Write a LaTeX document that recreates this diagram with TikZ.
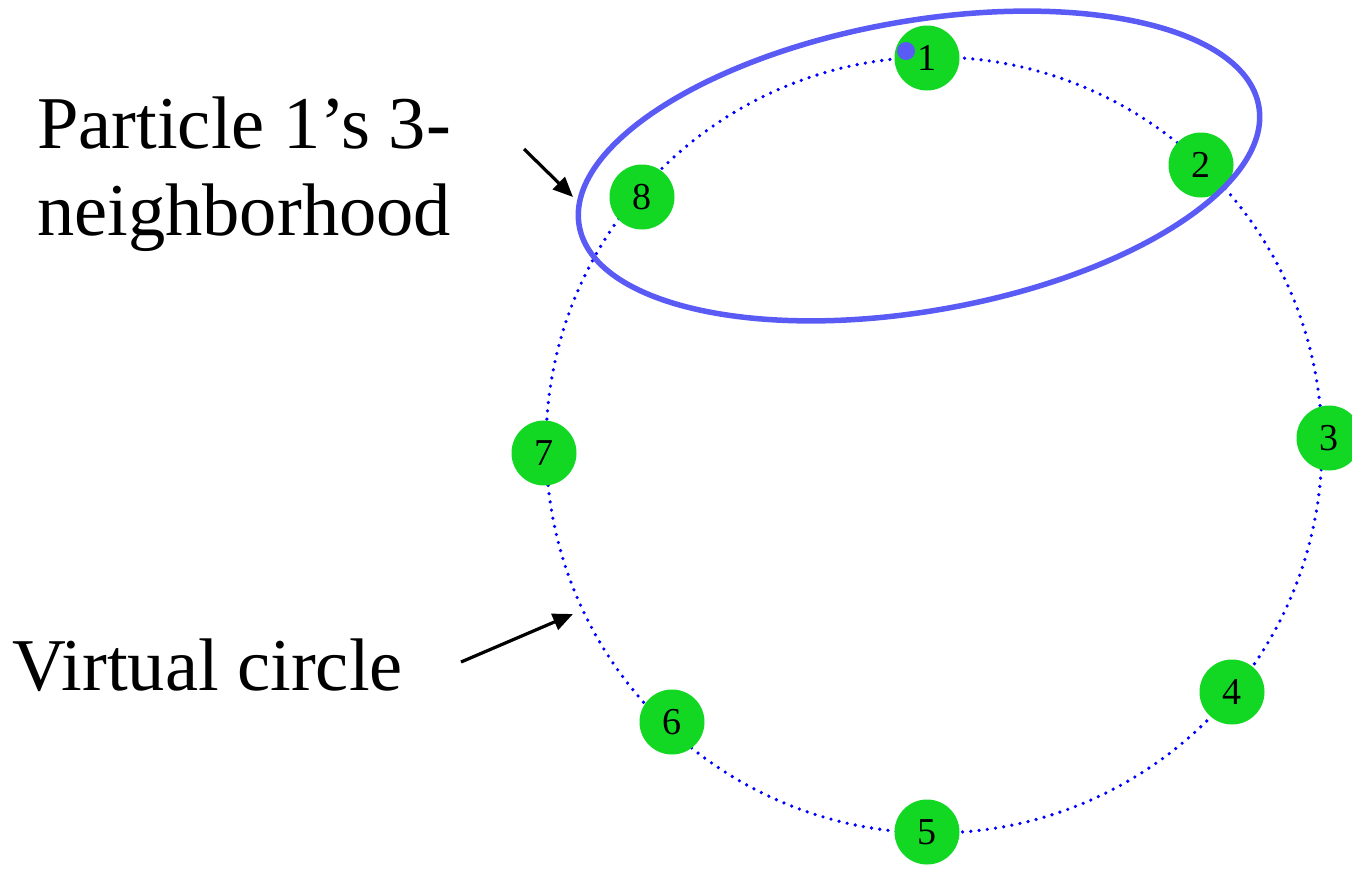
\documentclass[tikz,border=0pt]{standalone}
\usepackage{fontspec}
\setmainfont{Liberation Serif}
\usetikzlibrary{arrows.meta}
\definecolor{pgreen}{RGB}{18,216,36}
\definecolor{ringblue}{RGB}{0,0,255}
\definecolor{ellblue}{RGB}{90,90,245}
\begin{document}
\begin{tikzpicture}[x=1pt,y=-1pt,
  particle/.style={circle,fill=pgreen,minimum size=65pt,inner sep=0pt,font=\fontsize{38}{40}\selectfont},
  bigtext/.style={anchor=base west,inner sep=0pt,font=\fontsize{74.5}{87}\selectfont},
  pointer/.style={-{Triangle[length=20pt,width=17pt]},line width=3.2pt,black}]
\useasboundingbox (0,0) rectangle (1352,868);
\draw[ringblue,line width=3.6pt,dash pattern=on 0pt off 8.3pt,line cap=round] (934,445) circle[radius=388];
\node[particle] (n1) at (927,58) {1};
\node[particle] (n2) at (1201,165) {2};
\node[particle] (n3) at (1329,438) {3};
\node[particle] (n4) at (1232,692) {4};
\node[particle] (n5) at (927,832) {5};
\node[particle] (n6) at (672,722) {6};
\node[particle] (n7) at (544,453) {7};
\node[particle] (n8) at (642,197) {8};
\node[circle,fill=ellblue,minimum size=18pt,inner sep=0pt] (dot) at (906,51) {};
\draw[ellblue,line width=5.5pt,rotate around={10:(919,166)}] (919,166) ellipse[x radius=345,y radius=145];
\node[bigtext] (l1) at (37,148) {Particle 1’s 3-};
\node[bigtext] (l2) at (37,235) {neighborhood};
\node[bigtext] (l3) at (12,690) {Virtual circle};
\coordinate (a1s) at (524,149);
\coordinate (a1e) at (573,197);
\coordinate (a2s) at (461,662);
\coordinate (a2e) at (573,614);
\draw[pointer] (a1s) -- (a1e);
\draw[pointer] (a2s) -- (a2e);
\end{tikzpicture}
\end{document}
